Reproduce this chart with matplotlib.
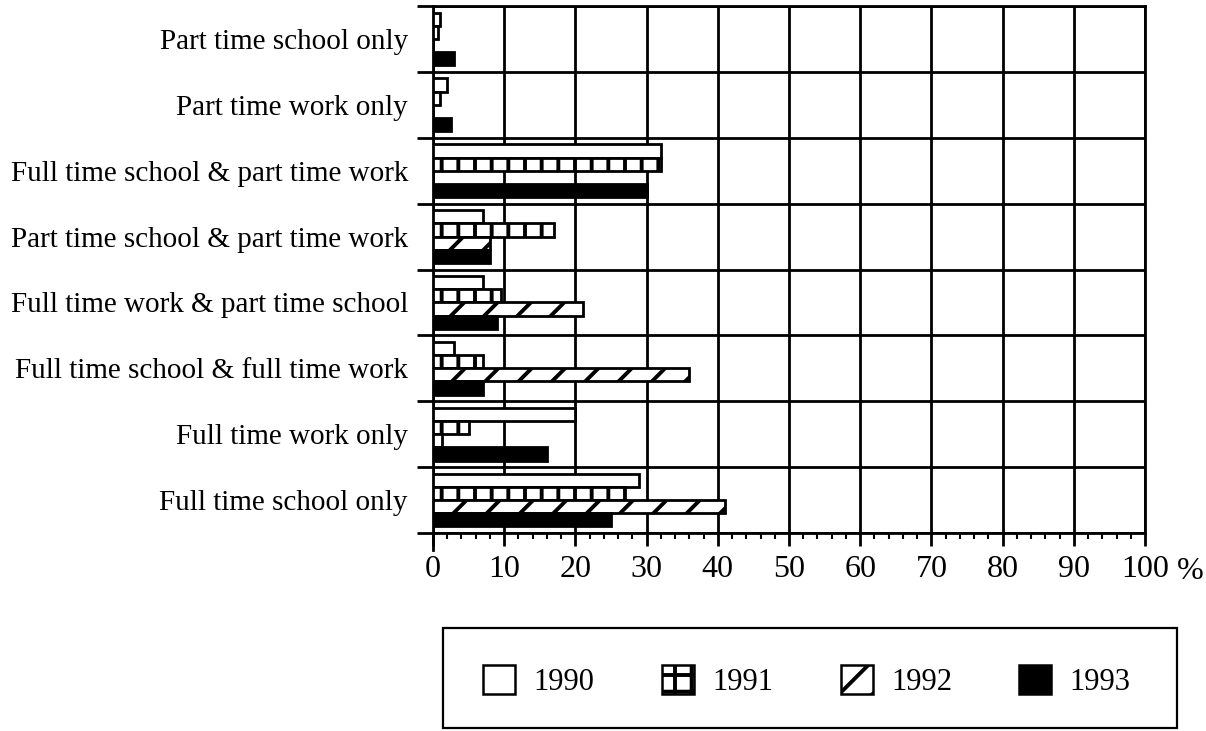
import matplotlib
matplotlib.use("Agg")
import matplotlib.pyplot as plt
import numpy as np
from matplotlib.patches import Patch, Rectangle
from matplotlib.ticker import FixedLocator, MultipleLocator

# ---- data (bottom to top) ----
categories = [
    "Full time school only",
    "Full time work only",
    "Full time school & full time work",
    "Full time work & part time school",
    "Part time school & part time work",
    "Full time school & part time work",
    "Part time work only",
    "Part time school only",
]
years = ["1990", "1991", "1992", "1993"]
v1990 = [29, 20, 3, 7, 7, 32, 2, 1]
v1991 = [27, 5, 7, 9.5, 17, 32, 1, 0.7]
v1992 = [41, 1.3, 36, 21, 8, 0, 0, 0]
v1993 = [25, 16, 7, 9, 8, 30, 2.5, 3]
x_ticks = [0, 10, 20, 30, 40, 50, 60, 70, 80, 90, 100]
x_labels = ["0", "10", "20", "30", "40", "50", "60", "70", "80", "90", "100"]

plt.rcParams["font.family"] = ["Liberation Serif", "DejaVu Serif"]
plt.rcParams["hatch.linewidth"] = 2.8

W, H = 1206, 731
fig = plt.figure(figsize=(W / 100, H / 100), dpi=100)
ax_l, ax_r, ax_t, ax_b = 433, 1145, 6, 533
ax = fig.add_axes([ax_l / W, 1 - ax_b / H, (ax_r - ax_l) / W, (ax_b - ax_t) / H])

y = np.arange(len(categories))
h = 0.2
series = [v1990, v1991, v1992, v1993]
offsets = [0.3, 0.1, -0.1, -0.3]
styles = [
    dict(facecolor="white"),
    dict(facecolor="white", hatch="|"),
    dict(facecolor="white", hatch="/"),
    dict(facecolor="black"),
]
for vals, off, st in zip(series, offsets, styles):
    ax.barh(y + off, vals, height=h, edgecolor="black", linewidth=2.0, zorder=3, **st)

ax.set_xlim(0, 100)
ax.set_ylim(-0.5, len(categories) - 0.5)

# x axis
ax.xaxis.set_major_locator(FixedLocator(x_ticks))
ax.set_xticklabels(x_labels)
ax.xaxis.set_minor_locator(MultipleLocator(2))
ax.tick_params(axis="x", which="major", direction="out", length=9.5, width=2,
               labelsize=23, pad=6, color="black")
ax.tick_params(axis="x", which="minor", direction="out", length=4.5, width=1.5)

# y axis: boundaries as major (gridlines + outward ticks), labels on minor
bounds = np.arange(-0.5, len(categories), 1.0)
ax.yaxis.set_major_locator(FixedLocator(bounds))
ax.set_yticks(y, minor=True)
ax.set_yticklabels(categories, minor=True)
ax.tick_params(axis="y", which="major", direction="out", length=11.5, width=2,
               labelleft=False)
ax.tick_params(axis="y", which="minor", length=0, labelsize=21, pad=18)

ax.grid(True, which="major", color="black", linewidth=2, zorder=1)
for s in ax.spines.values():
    s.set_linewidth(2)
    s.set_color("black")

# left axis line continuing below the x axis
ax.plot([0, 0], [0, -17 / (ax_b - ax_t)], transform=ax.transAxes, color="black",
        lw=2, clip_on=False)

# percent sign after the 100 label
ax.annotate("%", xy=(100, 0), xycoords=("data", "axes fraction"),
            xytext=(23, -17), textcoords="offset points", fontsize=23,
            ha="left", va="top")

# legend box
bx0, bx1, by0, by1 = 443, 1177, 628, 728
fig.add_artist(Rectangle((bx0 / W, 1 - by1 / H), (bx1 - bx0) / W, (by1 - by0) / H,
                         transform=fig.transFigure, fill=False, edgecolor="black",
                         linewidth=1.6))
handles = [
    Patch(facecolor="white", edgecolor="black", linewidth=1.8),
    Patch(facecolor="white", edgecolor="black", linewidth=1.8, hatch="+"),
    Patch(facecolor="white", edgecolor="black", linewidth=1.8, hatch="/"),
    Patch(facecolor="black", edgecolor="black", linewidth=1.8),
]
fig.legend(handles, years, ncol=4, loc="center",
           bbox_to_anchor=(807 / W, 1 - 681 / H), frameon=False, fontsize=22,
           handlelength=1.05, handleheight=1.05, handletextpad=0.6,
           columnspacing=2.2)

fig.savefig("out.png", dpi=100)
